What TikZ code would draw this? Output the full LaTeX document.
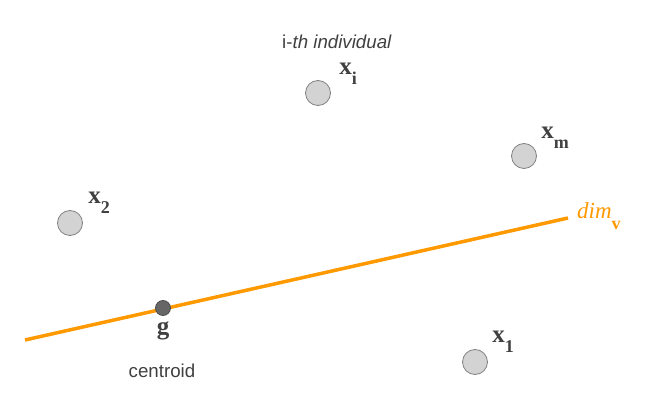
\documentclass[tikz,border=0pt]{standalone}
\usepackage{fontspec}
\setmainfont{Liberation Serif}
\setsansfont{Liberation Sans}
\usepackage{tikz}
\usetikzlibrary{positioning}
\definecolor{dimorange}{HTML}{FF9900}
\definecolor{ptfill}{HTML}{D3D3D3}
\definecolor{ptdraw}{HTML}{808080}
\definecolor{txtgray}{HTML}{404040}
\newcommand{\ptlab}[1]{\textbf{x}\raisebox{-0.42em}{\fontsize{18}{18}\selectfont\textbf{#1}}}

\begin{document}
\begin{tikzpicture}[x=1pt, y=-1pt,
		point/.style={circle, draw=ptdraw, fill=ptfill, line width=0.8pt, minimum size=25pt, inner sep=0pt},
		ptlabel/.style={text=txtgray, font=\fontsize{25}{25}\selectfont, inner sep=0pt},
		sftext/.style={text=txtgray, font=\sffamily\fontsize{18.7}{18.7}\selectfont, inner sep=0pt}]
		\useasboundingbox (0,0) rectangle (659,403);
		% the dimension axis
		\coordinate (axS) at (25,340);
		\coordinate (axE) at (568,218);
		\draw[dimorange, line width=3.5pt] (axS) -- (axE);
		\node[text=dimorange, font=\fontsize{23}{23}\selectfont, anchor=west, inner sep=0pt] (dim) at (577,216)
			{\textit{dim}\raisebox{-0.45em}{\fontsize{18}{18}\selectfont\textbf{v}}};
		% centroid
		\node[circle, draw=black!70, fill=black!60, line width=0.8pt, minimum size=15pt, inner sep=0pt] (g) at (163,308) {};
		\node[ptlabel] (glab) at (163,331) {\textbf{g}};
		\node[sftext] (cen) at (162,371) {centroid};
		% individuals
		\node[point] (xi) at (318,93) {};
		\node[point] (xm) at (524,156) {};
		\node[point] (x2) at (70,223) {};
		\node[point] (x1) at (475,362) {};
		\node[ptlabel] (xilab) at (348,74) {\ptlab{i}};
		\node[ptlabel] (xmlab) at (555,138) {\ptlab{m}};
		\node[ptlabel] (x2lab) at (99,203) {\ptlab{2}};
		\node[ptlabel] (x1lab) at (503,342) {\ptlab{1}};
		\node[sftext] (ith) at (337,42) {i-\textit{th individual}};
	\end{tikzpicture}
\end{document}
